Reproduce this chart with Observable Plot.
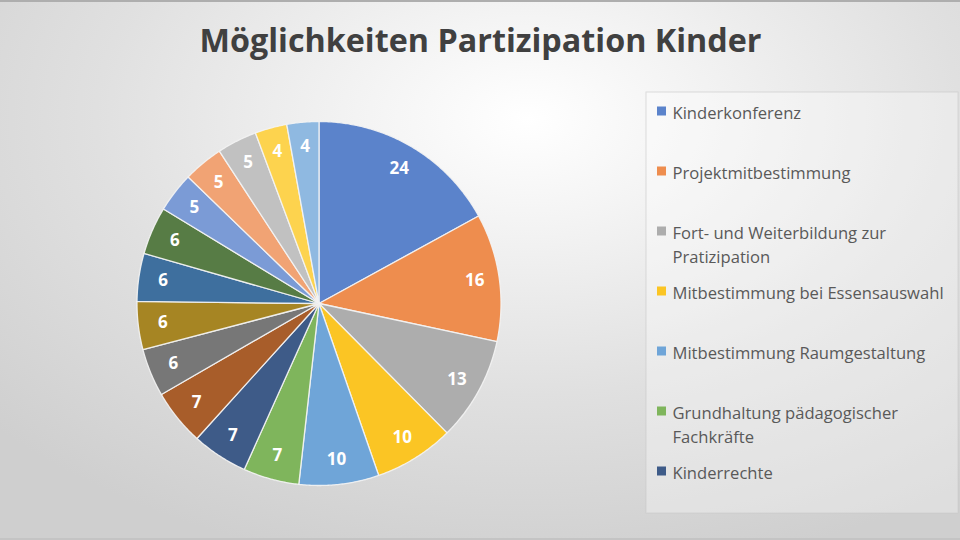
<!DOCTYPE html>
<html>
<head>
<meta charset="utf-8">
<script src="https://cdn.jsdelivr.net/npm/d3@7"></script>
<script src="https://cdn.jsdelivr.net/npm/@observablehq/plot@0.6"></script>
<style>
  html, body { margin: 0; padding: 0; }
  #chart {
    width: 960px; height: 540px; position: relative; overflow: hidden;
    background: radial-gradient(ellipse 75% 85% at 55% 22%, #ffffff 0%, #f4f4f4 22%, #e0e0e0 60%, #cfcfcf 100%);
    box-shadow: inset 0 2px 0 #aeaeae, inset 0 -2px 0 #c4c4c4;
  }
  #chart svg { background: transparent; }
</style>
</head>
<body>
<div id="chart"></div>
<script>
// ---- data ----
const title = "Möglichkeiten Partizipation Kinder";
const values = [24, 16, 13, 10, 10, 7, 7, 7, 6, 6, 6, 6, 5, 5, 5, 4, 4];
const sliceColors = [
  "#5b83cb", "#ee8d4e", "#adadad", "#fbc524", "#6fa5d8", "#7fb55c",
  "#3e5b88", "#a85d2a", "#777777", "#a68523", "#3e6f9e", "#577c45",
  "#7b9bd6", "#f1a374", "#c1c1c1", "#fdd34e", "#8fb9e1"
];
const legendLabels = [
  "Kinderkonferenz",
  "Projektmitbestimmung",
  "Fort- und Weiterbildung zur\nPratizipation",
  "Mitbestimmung bei Essensauswahl",
  "Mitbestimmung Raumgestaltung",
  "Grundhaltung pädagogischer\nFachkräfte",
  "Kinderrechte"
];

// ---- layout ----
const W = 960, H = 540;
const cx = 318.5, cy = 303, R = 182, labelR = 0.865 * R;
const legendBox = {x1: 646, y1: 92, x2: 958, y2: 513};
const legendX = 657, legendTop = 111, legendStep = 60, lineH = 23.5, sw = 9;
const legendFont = 16.6;
const FONT = "'Open Sans', 'Noto Sans', sans-serif";

const arcs = d3.pie().sort(null).value(d => d)(values);

// slice polygons
const polyPts = [];
arcs.forEach((a, i) => {
  polyPts.push({slice: i, x: cx, y: cy, color: sliceColors[i]});
  const n = Math.max(4, Math.ceil((a.endAngle - a.startAngle) / (Math.PI / 360)));
  for (let k = 0; k <= n; k++) {
    const t = a.startAngle + (a.endAngle - a.startAngle) * k / n;
    polyPts.push({slice: i, x: cx + R * Math.sin(t), y: cy - R * Math.cos(t), color: sliceColors[i]});
  }
});

const labels = arcs.map((a, i) => {
  const m = (a.startAngle + a.endAngle) / 2;
  return {x: cx + labelR * Math.sin(m), y: cy - labelR * Math.cos(m), text: String(values[i])};
});

const legend = legendLabels.map((name, i) => {
  const c = legendTop + i * legendStep;
  const lines = name.split("\n").length;
  return {name, color: sliceColors[i], cy: c, ty: c + (lines - 1) * lineH / 2};
});

const plot = Plot.plot({
  width: W, height: H,
  margin: 0,
  x: {type: "identity"},
  y: {type: "identity"},
  color: {type: "identity"},
  axis: null,
  style: {background: "transparent", fontFamily: FONT},
  marks: [
    // legend box
    Plot.rect([legendBox], {x1: "x1", y1: "y1", x2: "x2", y2: "y2",
      fill: "#ffffff", fillOpacity: 0.32, stroke: "#c8c8c8", strokeOpacity: 0.6}),
    // slices
    Plot.line(polyPts, {x: "x", y: "y", z: "slice", fill: "color",
      curve: "linear-closed", stroke: "#f4f4f4", strokeWidth: 1.3, strokeOpacity: 0.9}),
    // slice labels
    Plot.text(labels, {x: "x", y: "y", text: "text", fill: "#ffffff",
      fontSize: 17, fontWeight: "bold", fontFamily: FONT}),
    // title
    Plot.text([title], {x: () => W / 2, y: () => 41, text: d => d,
      fontSize: 32.3, fontWeight: "bold", fill: "#404040", fontFamily: FONT}),
    // legend swatches
    Plot.rect(legend, {x1: () => legendX, x2: () => legendX + sw,
      y1: d => d.cy - sw / 2, y2: d => d.cy + sw / 2, fill: "color"}),
    // legend text
    Plot.text(legend, {x: () => legendX + sw + 6, y: "ty", text: "name",
      textAnchor: "start", lineHeight: lineH / legendFont, fontSize: legendFont,
      fill: "#595959", fontFamily: FONT})
  ]
});
document.getElementById("chart").appendChild(plot);
</script>
</body>
</html>
